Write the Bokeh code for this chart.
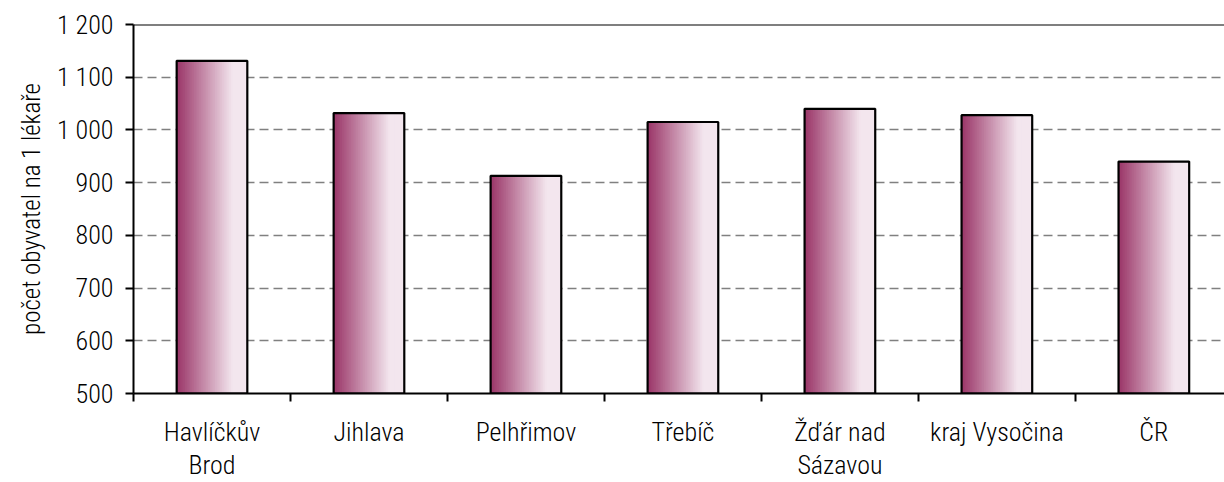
from bokeh.plotting import figure
from bokeh.models import FixedTicker, Span, Range1d
from bokeh.embed import file_html
from bokeh.resources import INLINE

# ---- data ----
categories = ["Havlíčkův\nBrod", "Jihlava", "Pelhřimov", "Třebíč",
              "Žďár nad\nSázavou", "kraj Vysočina", "ČR"]
values = [1131, 1032, 913, 1015, 1040, 1028, 940]
y_ticks = [500, 600, 700, 800, 900, 1000, 1100, 1200]
y_tick_labels = ["500", "600", "700", "800", "900", "1 000", "1 100", "1 200"]
y_label = "počet obyvatel na 1 lékaře"

FONT = "'Roboto Condensed Light', 'Roboto Condensed', sans-serif"
FS = "26px"

centers = [i + 0.5 for i in range(len(categories))]
boundaries = [i for i in range(len(categories) + 1)]

p = figure(width=1224, height=482,
           x_range=Range1d(0, 6.95), y_range=Range1d(500, 1200),
           output_backend="svg", toolbar_location=None,
           min_border_left=133, min_border_right=0,
           min_border_top=24, min_border_bottom=86)
p.outline_line_color = None
p.background_fill_color = "white"
p.border_fill_color = "white"

# grid
p.xgrid.visible = False
p.ygrid.ticker = FixedTicker(ticks=y_ticks[1:-1])
p.ygrid.grid_line_color = "#808080"
p.ygrid.grid_line_dash = "9 5"
p.ygrid.grid_line_width = 1.5

# gradient bars (vertical strips)
dark = (153, 51, 102)
light = (243, 230, 238)
N = 40
bw = 0.45
sw = bw / N
for k in range(N):
    t = (k + 0.5) / N
    f = min(1.0, t / 0.8)
    col = "#%02x%02x%02x" % tuple(int(round(d + (l - d) * f)) for d, l in zip(dark, light))
    xs = [c - bw / 2 + (k + 0.5) * sw for c in centers]
    w = sw * (1.6 if k < N - 1 else 1.0)
    p.vbar(x=xs, width=w, top=values, bottom=500, fill_color=col, line_color=None)

p.vbar(x=centers, width=bw, top=values, bottom=500,
       fill_color=None, line_color="black", line_width=2.2)

# top border
p.add_layout(Span(location=1200, dimension="width", line_color="black", line_width=2))

# x axis
xa = p.xaxis[0]
xa.ticker = FixedTicker(ticks=centers, minor_ticks=boundaries)
xa.major_label_overrides = {c: lab for c, lab in zip(centers, categories)}
xa.major_tick_out = 0
xa.major_tick_in = 0
xa.minor_tick_out = 8
xa.minor_tick_in = 0
xa.minor_tick_line_color = "black"
xa.minor_tick_line_width = 2
xa.axis_line_color = "black"
xa.axis_line_width = 2
xa.major_label_text_font = FONT
xa.major_label_text_font_size = FS
xa.major_label_text_color = "black"
xa.major_label_text_line_height = 1.1
xa.major_label_standoff = 15

# y axis
ya = p.yaxis[0]
ya.ticker = FixedTicker(ticks=y_ticks)
ya.major_label_overrides = {v: lab for v, lab in zip(y_ticks, y_tick_labels)}
ya.major_tick_out = 8
ya.major_tick_in = 0
ya.major_tick_line_color = "black"
ya.major_tick_line_width = 2
ya.minor_tick_line_color = None
ya.axis_line_color = "black"
ya.axis_line_width = 2
ya.major_label_text_font = FONT
ya.major_label_text_font_size = FS
ya.major_label_text_color = "black"
ya.major_label_standoff = 12
ya.axis_label = y_label
ya.axis_label_text_font = FONT
ya.axis_label_text_font_size = "25px"
ya.axis_label_text_font_style = "normal"
ya.axis_label_text_color = "black"
ya.axis_label_standoff = 8

open("out.html", "w").write(file_html(p, INLINE))
